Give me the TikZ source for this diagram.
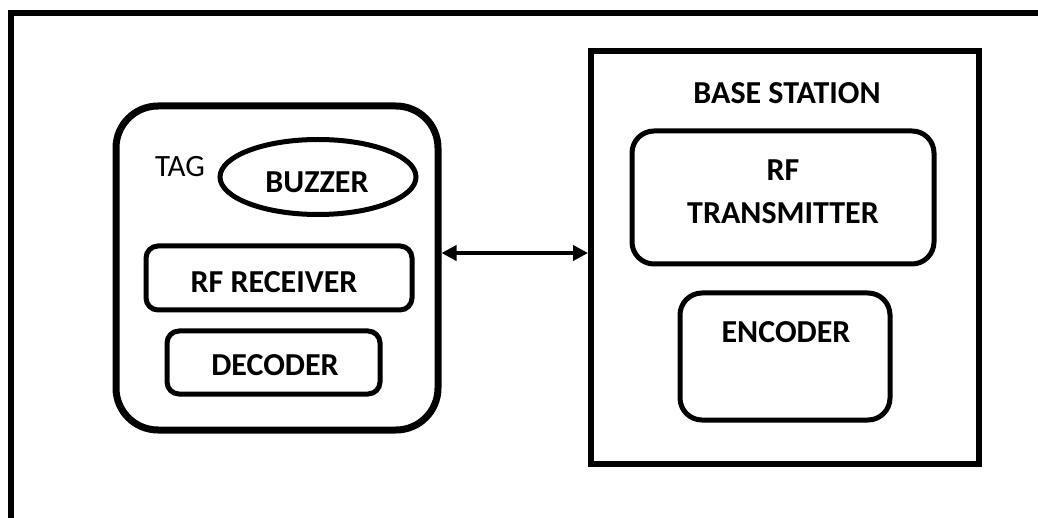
\documentclass[tikz,border=0pt]{standalone}
\usepackage{fontspec}
\setmainfont{Carlito}
\usetikzlibrary{arrows.meta,shapes.geometric}
\begin{document}
\begin{tikzpicture}[x=1pt,y=-1pt,
  lbl/.style={font=\fontsize{32}{38}\selectfont\bfseries, inner sep=0pt},
  plainlbl/.style={font=\fontsize{31}{37}\selectfont, inner sep=0pt},
  rbox/.style={draw, line width=5pt, rounded corners=#1, inner sep=0pt},
  rbox/.default=12pt,
  conn/.style={line width=4pt, {Triangle[length=15pt,width=15pt]}-{Triangle[length=15pt,width=15pt]}}]
\useasboundingbox (0,0) rectangle (1038,518);
% outer frame (only top and left edges visible)
\coordinate (fbl) at (11,518);
\coordinate (ftl) at (11,13);
\coordinate (ftr) at (1038,13);
\draw[line width=6pt] (fbl) -- (ftl) -- (ftr);
% TAG container
\node[draw, line width=7pt, rounded corners=42pt, minimum width=322pt, minimum height=324pt, inner sep=0pt] (tag) at (277,268) {};
\node[plainlbl] (taglbl) at (180,167) {TAG};
\node[draw, ellipse, line width=5pt, minimum width=196pt, minimum height=75pt, inner sep=0pt] (buzzer) at (318,177) {};
\node[lbl] (buzzerlbl) at (317,182) {BUZZER};
\node[rbox, minimum width=266pt, minimum height=64pt] (rx) at (279,278) {};
\node[lbl] (rxlbl) at (274,282) {RF RECEIVER};
\node[rbox, minimum width=213pt, minimum height=63pt] (dec) at (273.5,362.5) {};
\node[lbl] (declbl) at (275,365) {DECODER};
% BASE STATION container
\node[draw, line width=6pt, minimum width=388pt, minimum height=413pt, inner sep=0pt] (base) at (785,257.5) {};
\node[lbl] (baselbl) at (787,93) {BASE STATION};
\node[rbox=22pt, minimum width=302pt, minimum height=133pt] (tx) at (783,197.5) {};
\node[lbl] (txlbl1) at (783,170) {RF};
\node[lbl] (txlbl2) at (783,213) {TRANSMITTER};
\node[rbox=22pt, minimum width=210pt, minimum height=127pt] (enc) at (785,356.5) {};
\node[lbl] (enclbl) at (786,332) {ENCODER};
% connector
\draw[conn] (tag.east |- 0,253) -- (base.west |- 0,253);
\end{tikzpicture}
\end{document}
